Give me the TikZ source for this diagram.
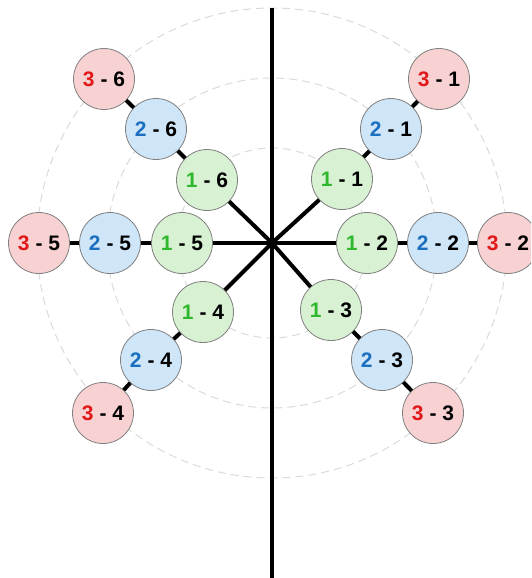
\documentclass[tikz,border=0pt]{standalone}
\usepackage{fontspec}
\setmainfont{Liberation Sans}
\definecolor{gfill}{HTML}{D8F1D2}
\definecolor{bfill}{HTML}{CFE5F8}
\definecolor{rfill}{HTML}{F8D2D2}
\definecolor{gnum}{HTML}{2DB82D}
\definecolor{bnum}{HTML}{1B6FBF}
\definecolor{rnum}{HTML}{E01818}
\definecolor{nborder}{HTML}{808080}
\definecolor{ringgray}{HTML}{DADADA}
\tikzset{
  basenode/.style={circle, draw=nborder, line width=0.8pt, minimum size=61pt, inner sep=0pt,
    font=\bfseries\fontsize{21}{21}\selectfont},
  ringone/.style={basenode, fill=gfill},
  ringtwo/.style={basenode, fill=bfill},
  ringthree/.style={basenode, fill=rfill},
  conn/.style={line width=4pt, black},
  axisline/.style={line width=4.5pt, black},
  guide/.style={ringgray, line width=1pt, dash pattern=on 8pt off 5pt}
}
\newcommand{\gl}[2]{\textcolor{gnum}{#1} - #2}
\newcommand{\bl}[2]{\textcolor{bnum}{#1} - #2}
\newcommand{\rl}[2]{\textcolor{rnum}{#1} - #2}
\begin{document}
\begin{tikzpicture}[x=1pt,y=-1pt]
\useasboundingbox (0,0) rectangle (531,578);
\clip (0,0) rectangle (531,578);
\coordinate (C) at (272,243);
\coordinate (top) at (272,8);
\coordinate (bot) at (272,580);
% guide circles
\draw[guide] (C) circle[radius=95pt];
\draw[guide] (C) circle[radius=165pt];
\draw[guide] (C) circle[radius=235pt];
% nodes
\node[ringone] (n11) at (342,179) {\gl{1}{1}};
\node[ringtwo] (n21) at (391,129) {\bl{2}{1}};
\node[ringthree] (n31) at (439,79) {\rl{3}{1}};
\node[ringone] (n12) at (367,243) {\gl{1}{2}};
\node[ringtwo] (n22) at (438,243) {\bl{2}{2}};
\node[ringthree] (n32) at (508,243) {\rl{3}{2}};
\node[ringone] (n13) at (331,310) {\gl{1}{3}};
\node[ringtwo] (n23) at (382,360) {\bl{2}{3}};
\node[ringthree] (n33) at (433,413) {\rl{3}{3}};
\node[ringone] (n14) at (203,312) {\gl{1}{4}};
\node[ringtwo] (n24) at (151,360) {\bl{2}{4}};
\node[ringthree] (n34) at (103,413) {\rl{3}{4}};
\node[ringone] (n15) at (182,243) {\gl{1}{5}};
\node[ringtwo] (n25) at (110,243) {\bl{2}{5}};
\node[ringthree] (n35) at (39,243) {\rl{3}{5}};
\node[ringone] (n16) at (207,180) {\gl{1}{6}};
\node[ringtwo] (n26) at (156,129) {\bl{2}{6}};
\node[ringthree] (n36) at (104,79) {\rl{3}{6}};
% connectors
\foreach \k in {1,...,6}{
  \draw[conn] (C) -- (n1\k);
  \draw[conn] (n1\k) -- (n2\k);
  \draw[conn] (n2\k) -- (n3\k);
}
\draw[axisline] (top) -- (bot);
\end{tikzpicture}
\end{document}
